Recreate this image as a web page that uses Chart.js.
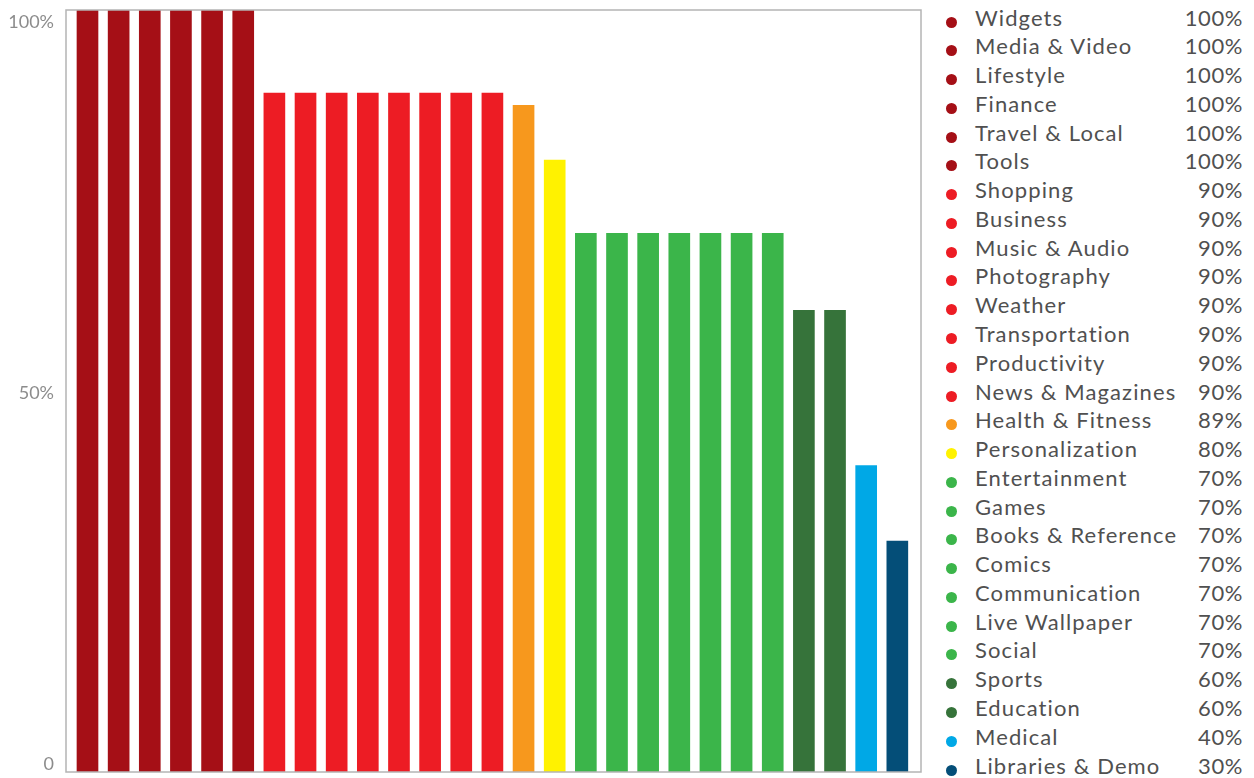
<!DOCTYPE html>
<html>
<head>
<meta charset="utf-8">
<script src="https://cdn.jsdelivr.net/npm/chart.js@4/dist/chart.umd.min.js"></script>
<style>
  body { margin: 0; background: #fff; font-family: Lato, "Open Sans", sans-serif; }
  #wrap { position: relative; width: 1254px; height: 778px; }
  #chartBox { position: absolute; left: 0; top: 0; width: 930px; height: 778px; }
  #legend { position: absolute; left: 940px; top: 3.6px; width: 304px; }
  .row { position: relative; height: 28.77px; line-height: 28.77px; font-size: 22px; color: #505050; white-space: nowrap; }
  .dot { position: absolute; left: 5.5px; top: 13px; width: 11px; height: 11px; border-radius: 50%; }
  .name { position: absolute; left: 35px; letter-spacing: 1.1px; }
  .pct { position: absolute; right: 1px; letter-spacing: 0.6px; }
</style>
</head>
<body>
<div id="wrap">
  <div id="chartBox"><canvas id="myChart"></canvas></div>
  <div id="legend"></div>
</div>
<script>
// categories, in the order of the bars
const categories = ['Widgets', 'Media & Video', 'Lifestyle', 'Finance', 'Travel & Local', 'Tools',
  'Shopping', 'Business', 'Music & Audio', 'Photography', 'Weather', 'Transportation', 'Productivity',
  'News & Magazines', 'Health & Fitness', 'Personalization', 'Entertainment', 'Games',
  'Books & Reference', 'Comics', 'Communication', 'Live Wallpaper', 'Social', 'Sports',
  'Education', 'Medical', 'Libraries & Demo'];

// bar heights as drawn in the picture (%)
const values = [100, 100, 100, 100, 100, 100,
  89.1, 89.1, 89.1, 89.1, 89.1, 89.1, 89.1, 89.1,
  87.5, 80.3,
  70.7, 70.7, 70.7, 70.7, 70.7, 70.7, 70.7,
  60.6, 60.6, 40.2, 30.3];

// percentages printed in the legend
const legendPct = ['100%', '100%', '100%', '100%', '100%', '100%',
  '90%', '90%', '90%', '90%', '90%', '90%', '90%', '90%',
  '89%', '80%', '70%', '70%', '70%', '70%', '70%', '70%', '70%',
  '60%', '60%', '40%', '30%'];

// colour group of each bar
const groups = [0, 0, 0, 0, 0, 0, 1, 1, 1, 1, 1, 1, 1, 1, 2, 3, 4, 4, 4, 4, 4, 4, 4, 5, 5, 6, 7];
const groupColors = ['#a50f16', '#ed1c24', '#f7981d', '#fff200', '#3bb54a', '#36733a', '#00a8e6', '#044e78'];

// y axis tick labels
const yTicks = [0, 50, 100];
const yTickLabels = ['0', '50%', '100%'];

const barColors = groups.map(g => groupColors[g]);

// legend en HTML
const legend = document.getElementById('legend');
categories.forEach((c, i) => {
  const row = document.createElement('div');
  row.className = 'row';
  row.innerHTML = '<span class="dot" style="background:' + barColors[i] + '"></span>' +
    '<span class="name"></span><span class="pct"></span>';
  row.querySelector('.name').textContent = c;
  row.querySelector('.pct').textContent = legendPct[i];
  legend.appendChild(row);
});

// cadre gris + etiquettes de l'axe y
const framePlugin = {
  id: 'frame',
  afterDraw(chart) {
    const ctx = chart.ctx;
    const a = chart.chartArea;
    ctx.save();
    ctx.strokeStyle = '#b4b4b4';
    ctx.lineWidth = 1.5;
    ctx.strokeRect(a.left, a.top, a.right - a.left, a.bottom - a.top);
    ctx.fillStyle = '#8c8c8c';
    ctx.font = '18px Lato, "Open Sans", sans-serif';
    ctx.textAlign = 'right';
    yTicks.forEach((t, i) => {
      const y = chart.scales.y.getPixelForValue(t);
      if (i === 0) ctx.textBaseline = 'bottom';
      else if (i === yTicks.length - 1) ctx.textBaseline = 'top';
      else ctx.textBaseline = 'middle';
      ctx.fillText(yTickLabels[i], a.left - 12, y + (i === yTicks.length - 1 ? 3 : (i === 0 ? 1 : 2)));
    });
    ctx.restore();
  }
};

const data = {
  datasets: [{
    label: 'Apps',
    data: values.map((v, i) => ({ x: i, y: v })),
    backgroundColor: barColors,
    borderWidth: 0,
    barThickness: 21
  }]
};

const config = {
  type: 'bar',
  data: data,
  options: {
    responsive: true,
    maintainAspectRatio: false,
    animation: false,
    layout: { padding: { left: 66, top: 10, right: 9, bottom: 6 } },
    plugins: { legend: { display: false }, tooltip: { enabled: false } },
    scales: {
      x: { type: 'linear', display: false, min: -0.69, max: 26.76, offset: false },
      y: { display: false, min: 0, max: 100 }
    }
  },
  plugins: [framePlugin]
};

const myChart = new Chart(document.getElementById('myChart'), config);
</script>
</body>
</html>
